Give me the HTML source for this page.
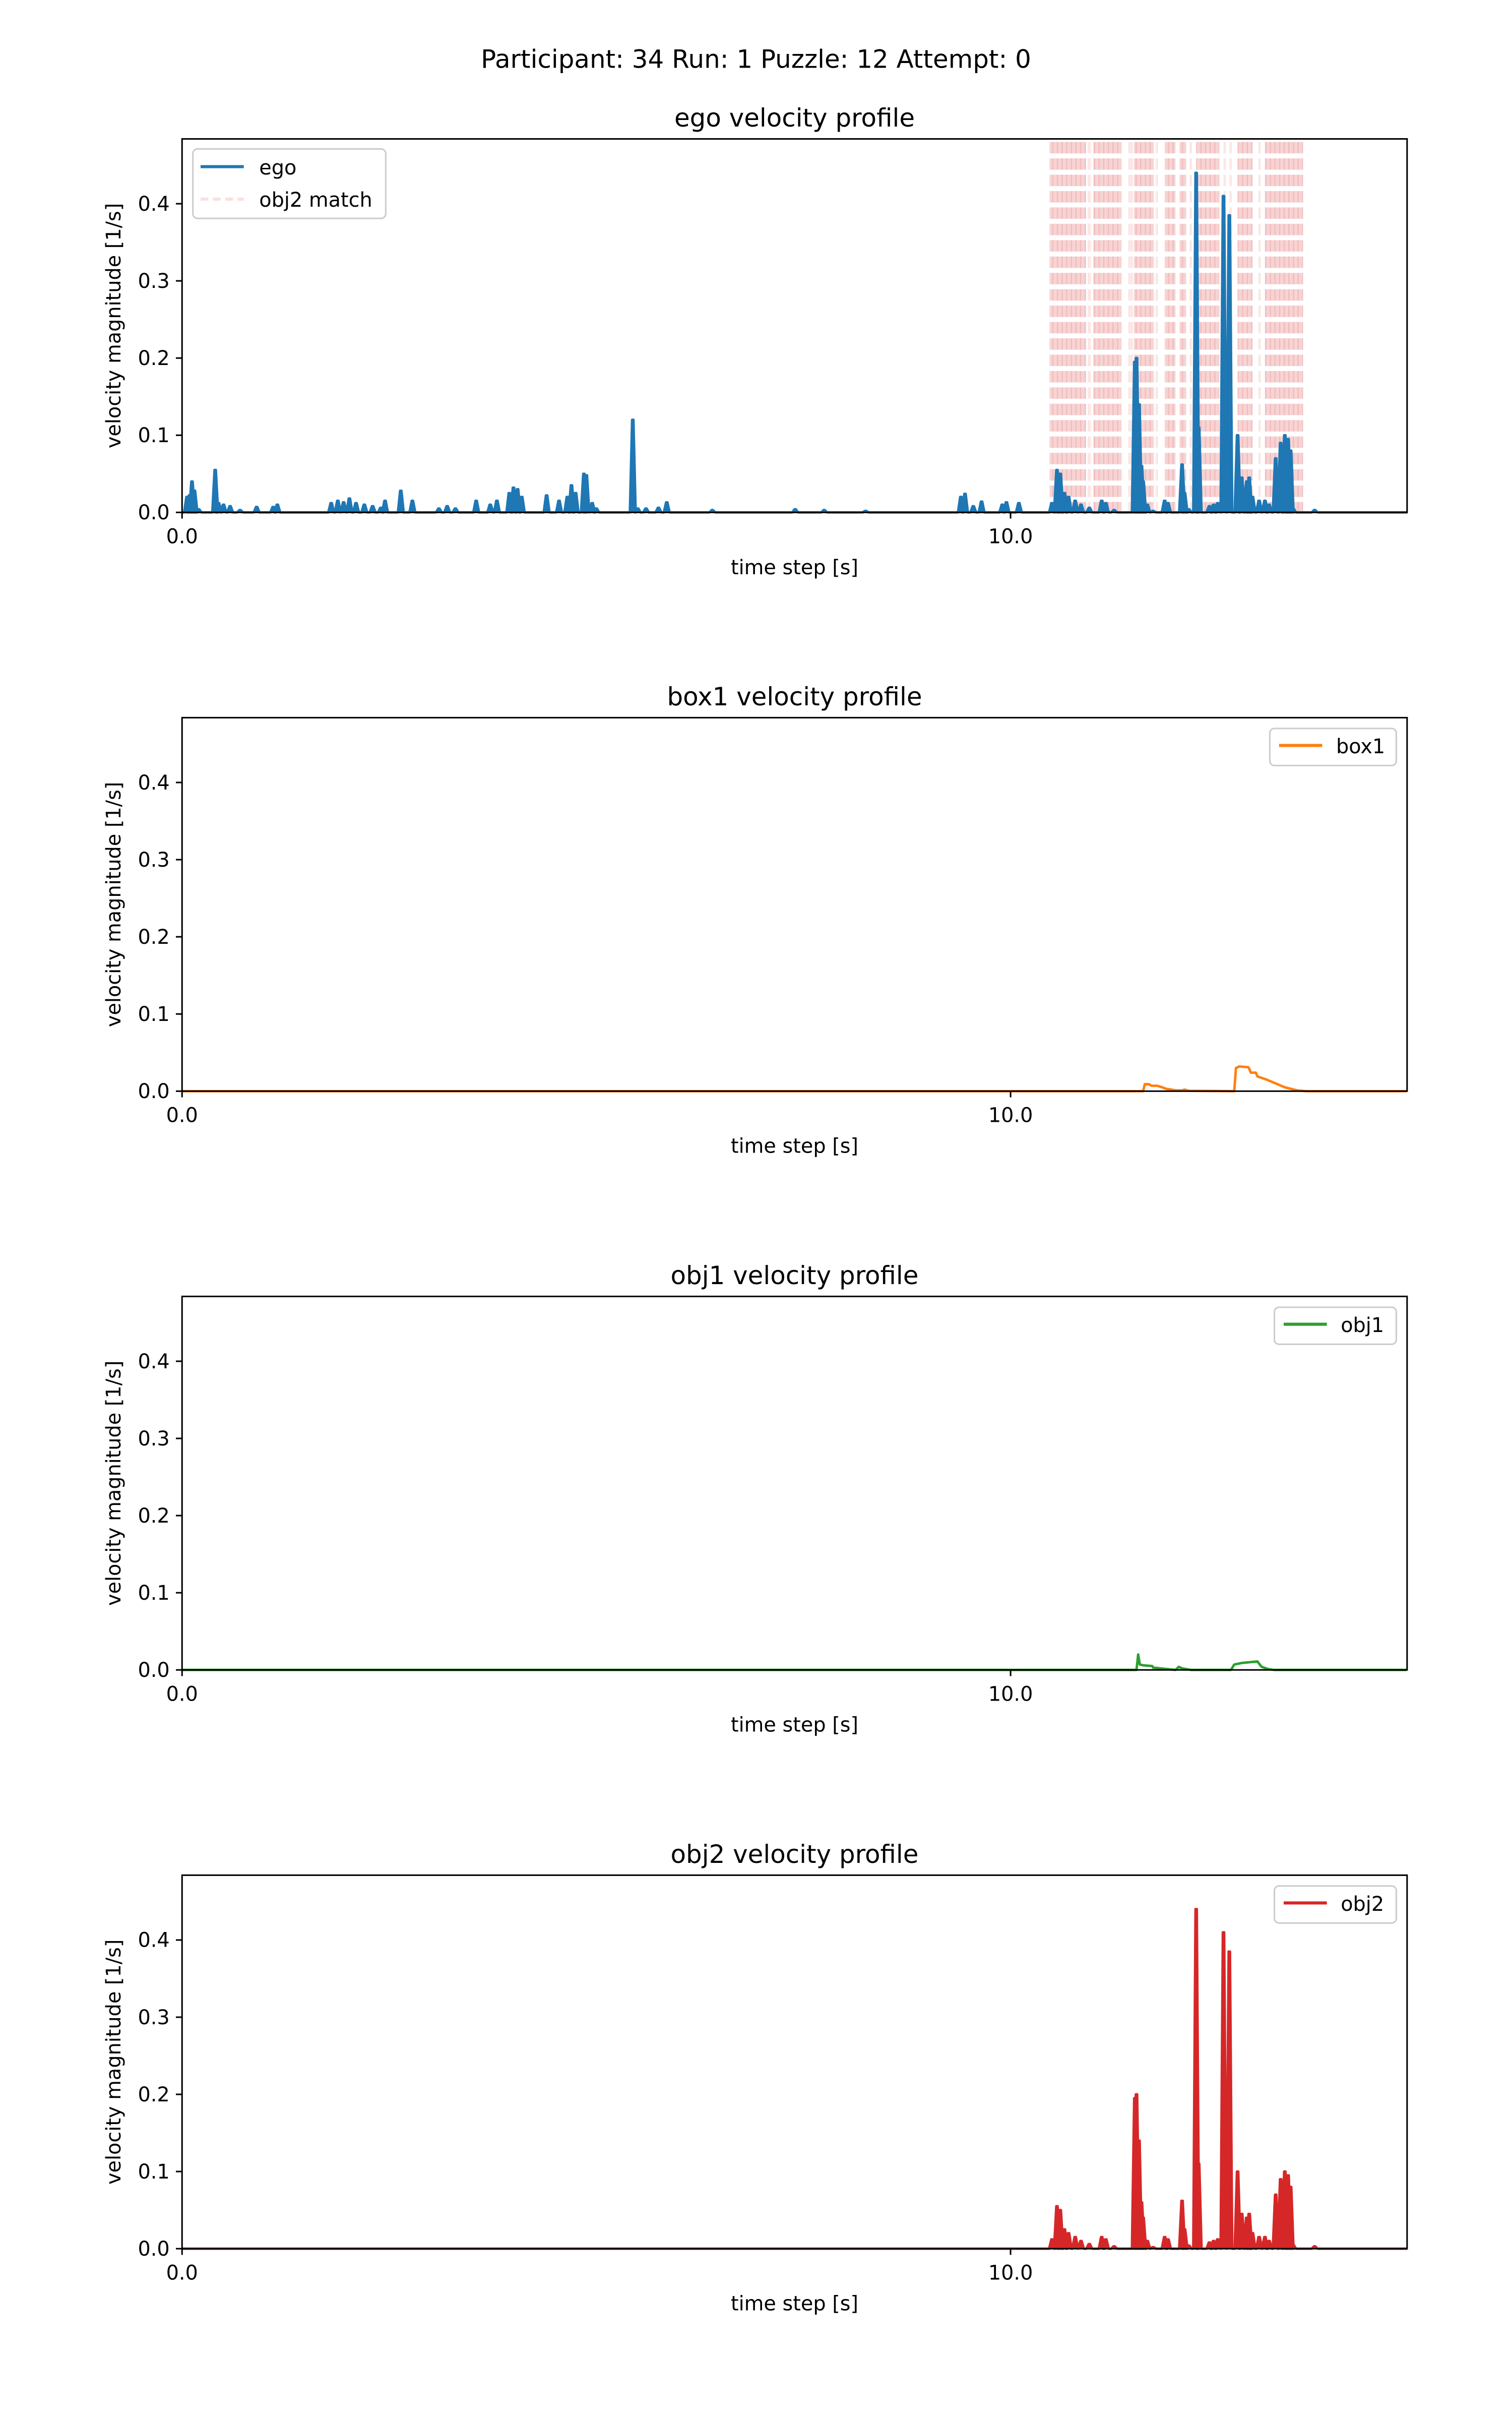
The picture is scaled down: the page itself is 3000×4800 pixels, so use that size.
<!DOCTYPE html>
<html><head><meta charset="utf-8"><style>
html,body{margin:0;padding:0;background:#fff;}
svg{display:block;}
text{font-family:"DejaVu Sans","Liberation Sans",sans-serif;fill:#000;}
</style></head><body>
<svg id="fig" xmlns="http://www.w3.org/2000/svg" width="3000" height="4800" viewBox="0 0 980 1568">
<rect width="980" height="1568" fill="#fff"/>
<text x="490" y="44" font-size="16.3" text-anchor="middle">Participant: 34 Run: 1 Puzzle: 12 Attempt: 0</text>
<defs>
<pattern id="dash" patternUnits="userSpaceOnUse" width="3" height="10.6" y="92">
<rect x="0" y="0" width="3" height="7.4" fill="#d62728" fill-opacity="0.2"/>
<rect x="1" y="0" width="0.8" height="7.4" fill="#d62728" fill-opacity="0.14"/>
</pattern>
<pattern id="dashLight" patternUnits="userSpaceOnUse" width="3" height="10.6" y="92">
<rect x="0" y="0" width="3" height="7.4" fill="#d62728" fill-opacity="0.11"/>
</pattern>
</defs>
<g id="plots"></g>
</svg>
<script>
// ---- data ----
const xTicks = [0, 10];
const xTickLabels = ["0.0", "10.0"];
const yTicks = [0, 0.1, 0.2, 0.3, 0.4];
const yTickLabels = ["0.0", "0.1", "0.2", "0.3", "0.4"];
const panelNames = ["ego", "box1", "obj1", "obj2"];
// ego early peaks (time s, value)
const egoEarlyT = [0.06,0.09,0.12,0.15,0.2,0.4,0.44,0.5,0.58,0.7,0.9,1.1,1.15,1.8,1.88,1.95,2.02,2.1,2.2,2.3,2.4,2.45,2.64,2.78,3.1,3.2,3.3,3.55,3.72,3.8,3.95,4.0,4.05,4.1,4.4,4.55,4.65,4.7,4.75,4.85,4.88,4.95,5.0,5.44,5.5,5.6,5.75,5.85,6.4,7.4,7.75,8.25,9.4,9.45,9.55,9.65,9.9,9.95,10.1];
const egoEarlyV = [0.02,0.022,0.04,0.028,0.004,0.055,0.012,0.01,0.008,0.003,0.007,0.007,0.01,0.012,0.015,0.013,0.018,0.012,0.01,0.008,0.006,0.015,0.028,0.015,0.005,0.008,0.005,0.015,0.01,0.015,0.025,0.032,0.03,0.02,0.022,0.015,0.02,0.035,0.025,0.05,0.048,0.012,0.005,0.12,0.005,0.005,0.006,0.013,0.003,0.004,0.003,0.002,0.02,0.024,0.008,0.014,0.01,0.013,0.012];
// obj2 peaks (shared with ego, right region)
const obj2T = [10.5,10.56,10.6,10.65,10.7,10.78,10.85,10.95,11.1,11.15,11.25,11.5,11.52,11.55,11.58,11.6,11.65,11.72,11.86,11.9,12.07,12.1,12.15,12.24,12.27,12.4,12.45,12.5,12.57,12.64,12.74,12.79,12.85,12.88,12.92,13.0,13.07,13.12,13.2,13.26,13.31,13.35,13.38,13.41,13.67];
const obj2V = [0.012,0.055,0.05,0.025,0.02,0.015,0.01,0.006,0.015,0.012,0.003,0.195,0.2,0.14,0.06,0.04,0.01,0.002,0.015,0.012,0.062,0.025,0.004,0.44,0.11,0.008,0.01,0.012,0.41,0.385,0.1,0.045,0.04,0.045,0.02,0.015,0.015,0.01,0.07,0.09,0.1,0.095,0.08,0.005,0.003];
// box1 polyline (time, value)
const box1T = [0,11.6,11.62,11.67,11.7,11.77,11.83,11.88,12.0,12.07,12.1,12.15,12.7,12.72,12.76,12.87,12.89,12.9,12.96,12.98,13.09,13.2,13.31,13.46,13.57,14.78];
const box1V = [0,0,0.009,0.009,0.007,0.007,0.005,0.003,0.001,0.001,0.002,0.0005,0,0.03,0.032,0.031,0.027,0.024,0.024,0.019,0.015,0.01,0.005,0.001,0,0];
// obj1 polyline
const obj1T = [0,11.52,11.54,11.56,11.6,11.71,11.72,11.9,11.99,12.03,12.07,12.18,12.66,12.7,12.79,12.98,13.0,13.03,13.11,13.18,14.78];
const obj1V = [0,0,0.02,0.007,0.006,0.005,0.003,0.001,0,0.004,0.002,0,0,0.007,0.009,0.011,0.008,0.004,0.001,0,0];
// obj2 match intervals (time s); light = sparse
const matchStart = [10.47,10.93,11.0,11.42,11.49,11.75,11.86,12.04,12.16,12.24,12.57,12.64,12.74,12.99,13.07];
const matchEnd   = [10.91,10.97,11.34,11.48,11.73,11.78,11.99,12.12,12.19,12.52,12.6,12.67,12.92,13.02,13.53];
const matchLight = [0,1,0,1,0,1,0,0,1,0,1,1,0,1,0];

// ---- layout ----
const AX = {x0:118, x1:912, h:242};
const panelTop = [90, 465, 840, 1215];
const colors = {ego:"#1f77b4", box1:"#ff7f0e", obj1:"#2ca02c", obj2:"#d62728"};
const XMAX = (912-118)/53.7;
function sx(t){ return AX.x0 + t*53.7; }
function sy(v, top){ return top + AX.h - v*500; }
const NS = "http://www.w3.org/2000/svg";
const root = document.getElementById('plots');
function mk(tag, attrs, parent){ const e=document.createElementNS(NS,tag); for(const k in attrs) e.setAttribute(k, attrs[k]); (parent||root).appendChild(e); return e; }

function peaksPoints(T, V, top){
  const w=0.035; let pts=[[sx(0),sy(0,top)]];
  for(let i=0;i<T.length;i++){
    pts.push([sx(T[i]-w),sy(0,top)]); pts.push([sx(T[i]-0.008),sy(V[i],top)]); pts.push([sx(T[i]+0.008),sy(V[i],top)]); pts.push([sx(T[i]+w),sy(0,top)]);
  }
  pts.push([sx(XMAX),sy(0,top)]);
  return pts.map(p=>p[0].toFixed(2)+","+p[1].toFixed(2)).join(" ");
}
function linePoints(T, V, top){
  return T.map((t,i)=>sx(t).toFixed(2)+","+sy(V[i],top).toFixed(2)).join(" ");
}

panelNames.forEach((name, pi)=>{
  const top = panelTop[pi];
  const g = mk('g',{});
  
  
  const title = mk('text',{x:515,y:top-8,'font-size':16.3,'text-anchor':'middle'},g);
  title.textContent = name+" velocity profile";
  
  

  if(name==="ego"){
    for(let i=0;i<matchStart.length;i++){
      const r = mk('rect',{x:sx(matchStart[i]),y:top,width:sx(matchEnd[i])-sx(matchStart[i]),height:AX.h,fill:matchLight[i]?"url(#dashLight)":"url(#dash)"},g);
      
      
    }
  }
  let pts, isPeaks=false;
  if(name==="ego"){ pts = peaksPoints(egoEarlyT.concat(obj2T), egoEarlyV.concat(obj2V), top); isPeaks=true; }
  else if(name==="obj2"){ pts = peaksPoints(obj2T, obj2V, top); isPeaks=true; }
  else if(name==="box1") pts = linePoints(box1T, box1V, top);
  else pts = linePoints(obj1T, obj1V, top);
  const ln = mk('polyline',{points:pts,fill:isPeaks?colors[name]:"none",stroke:colors[name],'stroke-width':1.6,'stroke-linejoin':'round'},g);
  
  

  const frame = mk('rect',{x:AX.x0,y:top,width:AX.x1-AX.x0,height:AX.h,fill:"none",stroke:"#000",'stroke-width':1},g);
  
  

  yTicks.forEach((v,i)=>{
    const y=sy(v,top);
    mk('line',{x1:AX.x0-4,x2:AX.x0,y1:y,y2:y,stroke:"#000",'stroke-width':1},g);
    const t=mk('text',{x:AX.x0-8,y:y+4.5,'font-size':13,'text-anchor':'end'},g);
    t.textContent=yTickLabels[i];
    
    
  });
  xTicks.forEach((v,i)=>{
    const x=sx(v);
    mk('line',{x1:x,x2:x,y1:top+AX.h,y2:top+AX.h+4,stroke:"#000",'stroke-width':1},g);
    const t=mk('text',{x:x,y:top+AX.h+20,'font-size':13,'text-anchor':'middle'},g);
    t.textContent=xTickLabels[i];
    
    
  });
  const xl=mk('text',{x:515,y:top+AX.h+40,'font-size':13,'text-anchor':'middle'},g);
  xl.textContent="time step [s]";
  
  
  const yl=mk('text',{x:0,y:0,'font-size':13,'text-anchor':'middle',transform:`translate(78,${top+AX.h/2}) rotate(-90)`},g);
  yl.textContent="velocity magnitude [1/s]";
  
  

  const lg = mk('g',{},g);
  
  
  if(name==="ego"){
    mk('rect',{x:125,y:96.5,width:125,height:45,rx:3,fill:"#fff",'fill-opacity':0.8,stroke:"#ccc",'stroke-width':1},lg);
    mk('line',{x1:130,x2:158,y1:108,y2:108,stroke:colors.ego,'stroke-width':2},lg);
    const a=mk('text',{x:168,y:113,'font-size':13},lg); a.textContent="ego";
    
    
    mk('line',{x1:130,x2:158,y1:129,y2:129,stroke:"#d62728",'stroke-opacity':0.15,'stroke-width':2,'stroke-dasharray':'5,3'},lg);
    const b=mk('text',{x:168,y:134,'font-size':13},lg); b.textContent="obj2 match";
    
    
  } else {
    const bx = name==="box1"?823:826;
    mk('rect',{x:bx,y:top+7,width:905-bx,height:24,rx:3,fill:"#fff",'fill-opacity':0.8,stroke:"#ccc",'stroke-width':1},lg);
    mk('line',{x1:bx+6,x2:bx+34,y1:top+18,y2:top+18,stroke:colors[name],'stroke-width':2},lg);
    const a=mk('text',{x:bx+43,y:top+23,'font-size':13},lg); a.textContent=name;
    
    
  }
});
</script>
</body></html>
